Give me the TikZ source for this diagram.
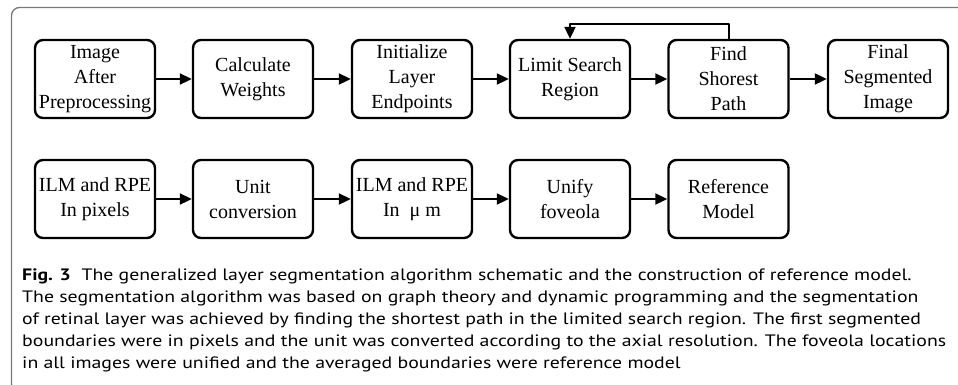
\documentclass[tikz,border=0pt]{standalone}
\usepackage{fontspec}
\setmainfont{Liberation Serif}
\newfontfamily\capfont[FakeStretch=1.2]{PT Sans}
\usetikzlibrary{arrows.meta}
\definecolor{framegray}{RGB}{120,120,120}
\begin{document}
\begin{tikzpicture}[x=1pt,y=-1pt,line join=round,>={Triangle[length=12pt,width=11pt]}]
		\tikzset{proc box/.style={draw,line width=2.4pt,rounded corners=8pt,minimum width=120pt,minimum height=78pt,inner sep=0pt,align=center,font=\fontsize{20}{25}\selectfont},
			flow/.style={->,line width=2pt}}
		\useasboundingbox (0,0) rectangle (958,384);
		% frame
		\draw[framegray,line width=1.3pt,rounded corners=8pt] (970,7.5) -- (11.5,7.5) -- (11.5,392) -- (40,392);
		% segmentation
		\node[proc box] (img) at (95,79) {Image\\After\\Preprocessing};
		\node[proc box] (wts) at (253,79) {Calculate\\Weights};
		\node[proc box] (ends) at (412,79) {Initialize\\Layer\\Endpoints};
		\node[proc box] (lsr) at (570,79) {Limit Search\\Region};
		\node[proc box] (fsp) at (728.5,79) {Find\\Shorest\\Path};
		\node[proc box] (fin) at (888,79) {Final\\Segmented\\Image};
		\draw[flow] (img) -- (wts);
		\draw[flow] (wts) -- (ends);
		\draw[flow] (ends) -- (lsr);
		\draw[flow] (lsr) -- (fsp);
		\draw[flow] (fsp) -- (fin);
		\draw[flow] (fsp.north) -- ++(0,-15) -| (lsr.north);
		% reference model
		\node[proc box] (pix) at (95,199) {ILM and RPE\\In pixels};
		\node[proc box] (unit) at (253,199) {Unit\\conversion};
		\node[proc box] (um) at (412,199) {ILM and RPE\\In \ μ m};
		\node[proc box] (fov) at (570,199) {Unify\\foveola};
		\node[proc box] (ref) at (728.5,199) {Reference\\Model};
		\draw[flow] (pix) -- (unit);
		\draw[flow] (unit) -- (um);
		\draw[flow] (um) -- (fov);
		\draw[flow] (fov) -- (ref);
		% caption
		\node[anchor=base west,inner sep=0pt,align=left,font=\capfont\fontsize{16.5}{22}\selectfont] (cap) at (22,368)
			{\textbf{Fig. 3}\ \ The generalized layer segmentation algorithm schematic and the construction of reference model.\\
			The segmentation algorithm was based on graph theory and dynamic programming and the segmentation\\
			of retinal layer was achieved by finding the shortest path in the limited search region. The first segmented\\
			boundaries were in pixels and the unit was converted according to the axial resolution. The foveola locations\\
			in all images were unified and the averaged boundaries were reference model};
		\end{tikzpicture}
\end{document}
